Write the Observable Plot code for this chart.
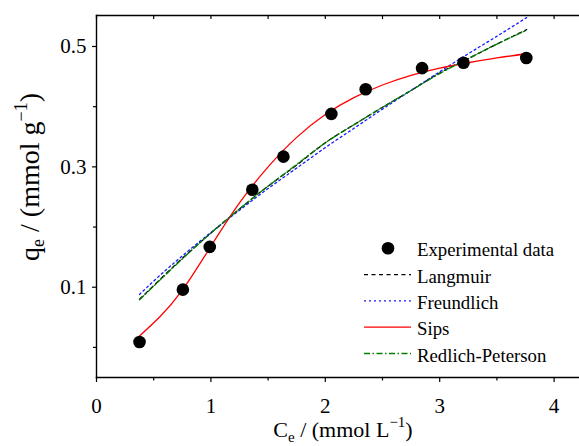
<!DOCTYPE html>
<html>
<head>
<meta charset="utf-8">
<script src="https://cdn.jsdelivr.net/npm/d3@7"></script>
<script src="https://cdn.jsdelivr.net/npm/@observablehq/plot@0.6"></script>
<style>
  html, body { margin: 0; padding: 0; background: #fff; }
  #chart { width: 579px; height: 446px; }
  #chart svg, #chart svg text, #chart svg tspan { font-family: "Liberation Serif", "Times New Roman", serif !important; }
</style>
</head>
<body>
<div id="chart"></div>
<script>
// Experimental data
const expC = [0.376, 0.755, 0.99, 1.362, 1.634, 2.053, 2.353, 2.846, 3.208, 3.757];
const expQ = [0.009, 0.096, 0.167, 0.262, 0.317, 0.388, 0.429, 0.464, 0.473, 0.481];

// Fitted model curves
const fitC = [0.376, 0.55, 0.75, 1.0, 1.25, 1.5, 1.75, 2.0, 2.25, 2.5, 2.75, 3.0, 3.25, 3.5, 3.76];
const langmuirQ = [0.080, 0.112, 0.148, 0.190, 0.230, 0.268, 0.303, 0.340, 0.370, 0.399, 0.427, 0.456, 0.480, 0.504, 0.528];
const freundlichQ = [0.088, 0.119, 0.152, 0.191, 0.228, 0.264, 0.298, 0.332, 0.364, 0.396, 0.427, 0.458, 0.488, 0.517, 0.548];
const sipsQ = [0.019, 0.050, 0.095, 0.168, 0.240, 0.300, 0.349, 0.387, 0.415, 0.436, 0.452, 0.464, 0.473, 0.481, 0.488];
const redlichQ = [0.079, 0.111, 0.147, 0.190, 0.230, 0.268, 0.304, 0.340, 0.370, 0.399, 0.427, 0.455, 0.480, 0.504, 0.527];

// Ticks
const xTicks = [0, 1, 2, 3, 4];
const xMinor = [0.5, 1.5, 2.5, 3.5];
const yTicks = [0.1, 0.3, 0.5];
const yMinor = [0.0, 0.2, 0.4];

// Legend
const legendLabels = ["Experimental data", "Langmuir", "Freundlich", "Sips", "Redlich-Peterson"];
const legendColors = ["#000000", "#000000", "#1a1aff", "#ff0000", "#008000"];
const legendDash = [null, "4,3.5", "2,3", null, "6,2.5,1.5,2.5"];

const FONT = "'Liberation Serif', 'Times New Roman', serif";

const series = [
  {name: "Langmuir", q: langmuirQ, i: 1},
  {name: "Freundlich", q: freundlichQ, i: 2},
  {name: "Sips", q: sipsQ, i: 3},
  {name: "Redlich-Peterson", q: redlichQ, i: 4}
];

const expData = expC.map((c, i) => ({c, q: expQ[i]}));

const lineMarks = series.map(s => Plot.line(fitC.map((c, k) => ({c, q: s.q[k]})), {
  x: "c", y: "q", curve: "natural",
  stroke: legendColors[s.i], strokeWidth: 1.3,
  strokeDasharray: legendDash[s.i] || undefined
}));

const plot = Plot.plot({
  width: 579, height: 446,
  marginLeft: 96, marginRight: 0, marginTop: 15, marginBottom: 69,
  style: `font-family: ${FONT}; background: #fff; color: #000;`,
  x: {domain: [0, 4.222]},
  y: {domain: [-0.05, 0.5515]},
  marks: [
    Plot.frame({anchor: "left", stroke: "#000", strokeWidth: 1.4}),
    Plot.frame({anchor: "bottom", stroke: "#000", strokeWidth: 1.4}),
    Plot.frame({anchor: "top", stroke: "#000", strokeWidth: 1.4}),
    Plot.axisX(xTicks, {anchor: "bottom", tickSize: 5, tickPadding: 16, fontSize: 21, label: null, tickFormat: d => String(d), strokeWidth: 1.2}),
    Plot.axisX(xMinor, {anchor: "bottom", tickSize: 3.5, text: null, label: null, strokeWidth: 1.2}),
    Plot.axisX(xTicks.concat(xMinor), {anchor: "top", tickSize: -3, text: null, label: null, strokeWidth: 1.2}),
    Plot.axisY(yTicks, {anchor: "left", tickSize: 4, tickPadding: 6, fontSize: 21, label: null, tickFormat: d => d.toFixed(1), strokeWidth: 1.2}),
    Plot.axisY(yMinor, {anchor: "left", tickSize: 3, text: null, label: null, strokeWidth: 1.2}),
    ...lineMarks,
    Plot.dot(expData, {x: "c", y: "q", r: 6.3, fill: "#000", stroke: null})
  ]
});

document.getElementById("chart").appendChild(plot);

const svg = d3.select(plot);

// Axis titles
const yl = svg.append("text")
  .attr("transform", "translate(39,177) rotate(-90)")
  .attr("text-anchor", "middle")
  .attr("font-family", FONT)
  .attr("font-size", 28)
  .attr("fill", "#000");
yl.append("tspan").text("q");
yl.append("tspan").attr("font-size", 18).attr("dy", 5).text("e");
yl.append("tspan").attr("dy", -5).text(" / (mmol g");
yl.append("tspan").attr("font-size", 18).attr("dy", -12).text("\u22121");
yl.append("tspan").attr("dy", 12).text(")");

const xl = svg.append("text")
  .attr("x", 343).attr("y", 437)
  .attr("text-anchor", "middle")
  .attr("font-family", FONT)
  .attr("font-size", 22)
  .attr("fill", "#000");
xl.append("tspan").text("C");
xl.append("tspan").attr("font-size", 15).attr("dy", 5).text("e");
xl.append("tspan").attr("dy", -5).text(" / (mmol L");
xl.append("tspan").attr("font-size", 15).attr("dy", -10).text("\u22121");
xl.append("tspan").attr("dy", 10).text(")");

// Legend
const lg = svg.append("g").attr("text-anchor", "start");
const rowY0 = 248.3, rowStep = 26.3, lx0 = 364, lx1 = 411, tx = 417;
legendLabels.forEach((lab, i) => {
  const y = rowY0 + i * rowStep;
  if (i === 0) {
    lg.append("circle").attr("cx", (lx0 + lx1) / 2 + 0.5).attr("cy", y).attr("r", 6.3).attr("fill", legendColors[i]);
  } else {
    lg.append("line").attr("x1", lx0).attr("x2", lx1).attr("y1", y).attr("y2", y)
      .attr("stroke", legendColors[i]).attr("stroke-width", 1.3)
      .attr("stroke-dasharray", legendDash[i]);
  }
  lg.append("text").attr("x", tx).attr("y", y + 8).attr("text-anchor", "start")
    .attr("font-family", FONT).attr("font-size", 18.8).attr("fill", "#000").text(lab);
});
</script>
</body>
</html>
